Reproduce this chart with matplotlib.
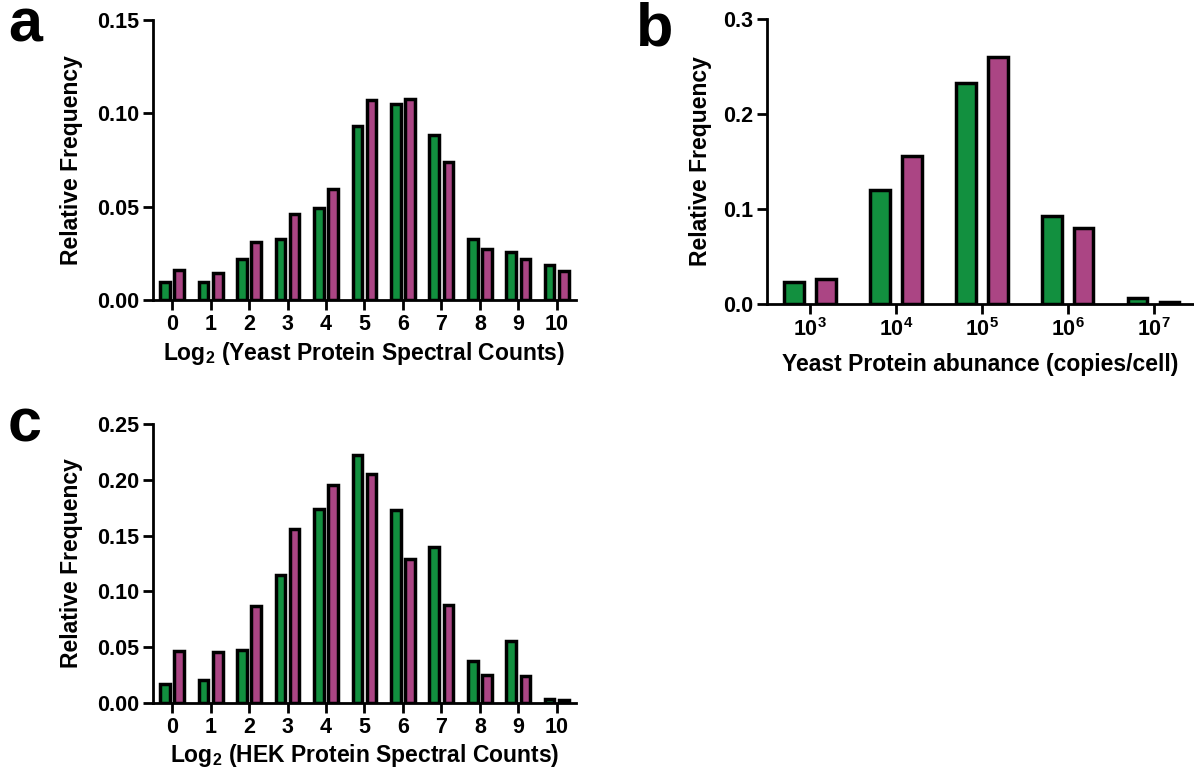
import matplotlib
matplotlib.use("Agg")
import matplotlib.pyplot as plt
import numpy as np

plt.rcParams["font.family"] = ["Liberation Sans", "DejaVu Sans"]
plt.rcParams["font.weight"] = "bold"
plt.rcParams["mathtext.fontset"] = "custom"
plt.rcParams["mathtext.rm"] = "Liberation Sans:bold"
plt.rcParams["mathtext.bf"] = "Liberation Sans:bold"

GREEN = "#12903f"
MAGENTA = "#ab4584"
LABEL_SIZE = 16.5
TICK_SIZE = 15.5

# a: yeast spectral counts (log2 bins)
yeast_bins = np.arange(11)
yeast_green = [0.0098, 0.0098, 0.0218, 0.0328, 0.0494, 0.0932, 0.105, 0.0886, 0.0325, 0.0259, 0.0186]
yeast_magenta = [0.0162, 0.0144, 0.0312, 0.0458, 0.0596, 0.107, 0.1078, 0.0738, 0.0272, 0.0217, 0.0156]

# b: yeast protein abundance (log10 copies/cell)
abund_exp = [3, 4, 5, 6, 7]
abund_green = [0.0235, 0.120, 0.233, 0.093, 0.0067]
abund_magenta = [0.0267, 0.156, 0.2596, 0.0804, 0.002]

# c: HEK spectral counts (log2 bins)
hek_bins = np.arange(11)
hek_green = [0.0173, 0.0203, 0.0472, 0.1147, 0.1741, 0.2222, 0.1726, 0.1398, 0.0379, 0.0553, 0.0036]
hek_magenta = [0.0463, 0.0454, 0.0872, 0.1556, 0.1956, 0.2055, 0.1293, 0.0878, 0.0251, 0.0239, 0.0024]


def style_axes(ax):
    for side in ("top", "right"):
        ax.spines[side].set_visible(False)
    for side in ("left", "bottom"):
        ax.spines[side].set_linewidth(2)
    ax.tick_params(width=2, length=7, labelsize=TICK_SIZE, pad=3)
    for lbl in ax.get_xticklabels() + ax.get_yticklabels():
        lbl.set_fontweight("bold")


def paired_bars(ax, x, g, m, offset, width):
    x = np.asarray(x, dtype=float)
    kw = dict(width=width, edgecolor="black", linewidth=2.5, zorder=3)
    ax.bar(x - offset, g, color=GREEN, **kw)
    ax.bar(x + offset, m, color=MAGENTA, **kw)


fig = plt.figure(figsize=(11.94, 7.74), dpi=100)

ax_a = fig.add_axes([0.1281, 0.6124, 0.3543, 0.3618])
paired_bars(ax_a, yeast_bins, yeast_green, yeast_magenta, 0.185, 0.25)
ax_a.set_xlim(-0.5, 10.5)
ax_a.set_ylim(0, 0.15)
ax_a.set_yticks([0, 0.05, 0.10, 0.15])
ax_a.set_yticklabels(["0.00", "0.05", "0.10", "0.15"])
ax_a.set_xticks(yeast_bins)
ax_a.set_xlabel(r"Log$_{\mathbf{2}}$ (Yeast Protein Spectral Counts)", fontsize=LABEL_SIZE,
                fontweight="bold", labelpad=4)
ax_a.set_ylabel("Relative Frequency", fontsize=LABEL_SIZE, fontweight="bold", labelpad=10)
style_axes(ax_a)

ax_b = fig.add_axes([0.6424, 0.6072, 0.3568, 0.3683])
paired_bars(ax_b, abund_exp, abund_green, abund_magenta, 0.186, 0.23)
ax_b.set_xlim(2.5, 7.46)
ax_b.set_ylim(0, 0.3)
ax_b.set_yticks([0, 0.1, 0.2, 0.3])
ax_b.set_yticklabels(["0.0", "0.1", "0.2", "0.3"])
ax_b.set_xticks(abund_exp)
ax_b.set_xticklabels([r"$\mathbf{10^{%d}}$" % e for e in abund_exp])
ax_b.set_xlabel("Yeast Protein abunance (copies/cell)", fontsize=LABEL_SIZE,
                fontweight="bold", labelpad=9)
ax_b.set_ylabel("Relative Frequency", fontsize=LABEL_SIZE, fontweight="bold", labelpad=8)
style_axes(ax_b)

ax_c = fig.add_axes([0.1281, 0.0917, 0.3543, 0.3605])
paired_bars(ax_c, hek_bins, hek_green, hek_magenta, 0.185, 0.25)
ax_c.set_xlim(-0.5, 10.5)
ax_c.set_ylim(0, 0.25)
ax_c.set_yticks([0, 0.05, 0.10, 0.15, 0.20, 0.25])
ax_c.set_yticklabels(["0.00", "0.05", "0.10", "0.15", "0.20", "0.25"])
ax_c.set_xticks(hek_bins)
ax_c.set_xlabel(r"Log$_{\mathbf{2}}$ (HEK Protein Spectral Counts)", fontsize=LABEL_SIZE,
                fontweight="bold", labelpad=3)
ax_c.set_ylabel("Relative Frequency", fontsize=LABEL_SIZE, fontweight="bold", labelpad=10)
style_axes(ax_c)

# panel letters
for letter, (px, py) in {"a": (8, -2), "b": (636, 2), "c": (8, 398)}.items():
    fig.text(px / 1194, 1 - py / 774, letter, fontsize=44, fontweight="bold",
             ha="left", va="top")

fig.savefig("out.png", dpi=100)
